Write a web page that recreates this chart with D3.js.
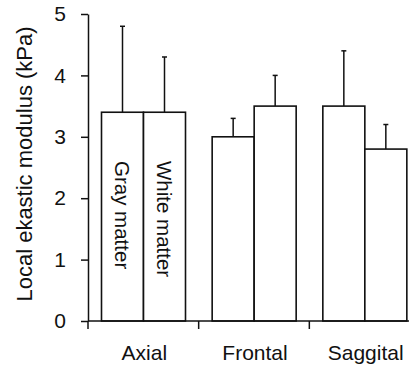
<!DOCTYPE html>
<html>
<head>
<meta charset="utf-8">
<script src="https://cdn.jsdelivr.net/npm/d3@7"></script>
<style>
  body { margin: 0; background: #fff; }
  svg { display: block; font-family: "Liberation Sans", Arial, sans-serif; }
</style>
</head>
<body>
<div id="chart"></div>
<script>
// Data: local elastic modulus (kPa), mean and SD
const categories = ["Axial", "Frontal", "Saggital"]
const groups = ["Gray matter", "White matter"]
const grayMean = [3.4, 3.0, 3.5]
const graySD   = [1.4, 0.3, 0.9]
const whiteMean = [3.4, 3.5, 2.8]
const whiteSD   = [0.9, 0.5, 0.4]
const yTicks = [0, 1, 2, 3, 4, 5]

const width = 409, height = 367
const ink = "#111"

const svg = d3.select("#chart").append("svg")
    .attr("width", width)
    .attr("height", height)

const x = d3.scaleBand().domain(categories).range([88, 420])
const xSub = d3.scaleBand().domain(groups).range([13.5, 97.5])
const y = d3.scaleLinear().domain([0, 5]).range([321, 14])

const rows = []
categories.forEach(function(c, i) {
    rows.push({cat: c, group: groups[0], mean: grayMean[i], sd: graySD[i]})
    rows.push({cat: c, group: groups[1], mean: whiteMean[i], sd: whiteSD[i]})
})

// bars
const bar = svg.append("g").selectAll("g")
    .data(rows).join("g")
    .attr("transform", d => `translate(${x(d.cat) + xSub(d.group)},0)`)

bar.append("line")
    .attr("x1", xSub.bandwidth() / 2).attr("x2", xSub.bandwidth() / 2)
    .attr("y1", d => y(d.mean)).attr("y2", d => y(d.mean + d.sd))
    .attr("stroke", ink).attr("stroke-width", 1.5)

bar.append("line")
    .attr("x1", xSub.bandwidth() / 2 - 2.5).attr("x2", xSub.bandwidth() / 2 + 2.5)
    .attr("y1", d => y(d.mean + d.sd)).attr("y2", d => y(d.mean + d.sd))
    .attr("stroke", ink).attr("stroke-width", 1.5)

bar.append("rect")
    .attr("y", d => y(d.mean))
    .attr("width", xSub.bandwidth())
    .attr("height", d => y(0) - y(d.mean))
    .attr("fill", "#fff").attr("stroke", ink).attr("stroke-width", 1.6)

// group names written inside the Axial bars
bar.filter(d => d.cat === categories[0]).append("text")
    .attr("transform", `translate(${xSub.bandwidth() / 2},161) rotate(90)`)
    .attr("dy", "0.35em")
    .attr("font-size", 20.5)
    .attr("fill", ink)
    .text(d => d.group)

// y axis
const yAxis = svg.append("g")
    .attr("transform", "translate(88,0)")
    .call(d3.axisLeft(y).tickValues(yTicks).tickFormat(d3.format("d"))
        .tickSize(7).tickSizeOuter(0).tickPadding(15))
yAxis.select(".domain").attr("stroke", ink).attr("stroke-width", 1.5)
yAxis.selectAll(".tick line").attr("stroke", ink).attr("stroke-width", 1.5)
yAxis.selectAll(".tick text").attr("font-size", 21).attr("fill", ink)
    .attr("font-family", "Liberation Sans, Arial, sans-serif")

// x axis: baseline, boundary ticks, category labels
const bounds = categories.map(c => x(c)).concat([x.range()[1]])
svg.append("line")
    .attr("x1", 88).attr("x2", x.range()[1])
    .attr("y1", y(0)).attr("y2", y(0))
    .attr("stroke", ink).attr("stroke-width", 1.5)
svg.append("g").selectAll("line")
    .data(bounds).join("line")
    .attr("x1", d => d).attr("x2", d => d)
    .attr("y1", y(0)).attr("y2", y(0) + 8)
    .attr("stroke", ink).attr("stroke-width", 1.5)
svg.append("g").selectAll("text")
    .data(categories).join("text")
    .attr("x", d => x(d) + x.bandwidth() / 2 + 1)
    .attr("y", 360)
    .attr("text-anchor", "middle")
    .attr("font-size", 21)
    .attr("fill", ink)
    .text(d => d)

svg.append("text")
    .attr("transform", "translate(32,164) rotate(-90)")
    .attr("text-anchor", "middle")
    .attr("font-size", 22)
    .attr("fill", ink)
    .text("Local ekastic modulus (kPa)")
</script>
</body>
</html>
